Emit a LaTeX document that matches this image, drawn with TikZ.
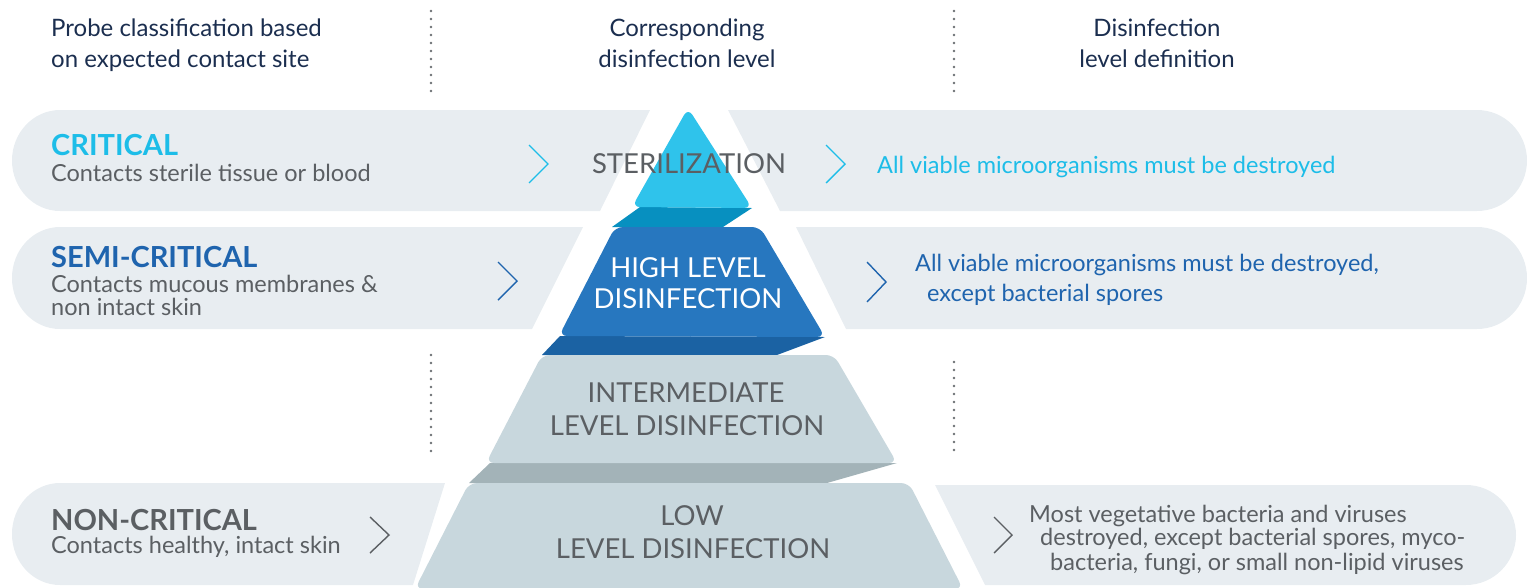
\documentclass[tikz,border=0pt]{standalone}
\usepackage{fontspec}
\setmainfont{Lato}
\definecolor{bandc}{HTML}{E8EDF1}
\definecolor{navyc}{HTML}{1B2E4F}
\definecolor{grayt}{HTML}{5B5F63}
\definecolor{cyant}{HTML}{1DBDE8}
\definecolor{bluet}{HTML}{1F64AE}
\definecolor{dotc}{HTML}{6B6F73}
\definecolor{sterc}{HTML}{2FC3EB}
\definecolor{sterd}{HTML}{0790C0}
\definecolor{highc}{HTML}{2777BF}
\definecolor{highd}{HTML}{1B62A3}
\definecolor{lowc}{HTML}{C8D7DD}
\definecolor{lowd}{HTML}{A3B3B8}
\begin{document}
\begin{tikzpicture}[x=1pt,y=-1pt,
  band/.style={fill=bandc},
  hdr/.style={font=\fontsize{24}{28}\selectfont, text=navyc, inner sep=0pt},
  lvl/.style={font=\fontsize{27.5}{30}\selectfont, text=grayt, inner sep=0pt, anchor=base},
  ttl/.style={font=\fontsize{29}{32}\selectfont\bfseries, inner sep=0pt, anchor=base west},
  sub/.style={font=\fontsize{23.5}{26}\selectfont, text=grayt, inner sep=0pt, anchor=base west},
  defn/.style={font=\fontsize{23.5}{26}\selectfont, inner sep=0pt, anchor=base west},
  chev/.style={line width=1.4pt},
  dots/.style={draw=dotc, line width=2.6pt, line cap=round, dash pattern=on 0pt off 8pt}]
\useasboundingbox (0,0) rectangle (1527,587);
\begin{scope}
\clip (0,0) rectangle (1527,587);

% ---- background bands ----
% critical
\fill[band] (650,110) -- (60,110) .. controls (33.5,110) and (12,132.6) .. (12,160.5)
  .. controls (12,188.4) and (33.5,211) .. (60,211) -- (600,211) -- cycle;
\fill[band] (728,110) -- (1477,110) .. controls (1504.6,110) and (1527,132.6) .. (1527,160.5)
  .. controls (1527,188.4) and (1504.6,211) .. (1477,211) -- (780,211) -- cycle;
% semi-critical
\fill[band] (583,227) -- (60,227) .. controls (33.5,227) and (12,249.6) .. (12,278)
  .. controls (12,306.4) and (33.5,329) .. (60,329) -- (532,329) -- cycle;
\fill[band] (796,227) -- (1477,227) .. controls (1504.6,227) and (1527,249.6) .. (1527,278)
  .. controls (1527,306.4) and (1504.6,329) .. (1477,329) -- (846,329) -- cycle;
% non-critical
\fill[band] (445,483) -- (60,483) .. controls (33.5,483) and (12,505.6) .. (12,534)
  .. controls (12,562.4) and (33.5,585) .. (60,585) -- (413,585) -- cycle;
\fill[band] (935,485) -- (1466,485) .. controls (1493.6,485) and (1516,507.6) .. (1516,535)
  .. controls (1516,562.4) and (1493.6,585) .. (1466,585) -- (985,585) -- cycle;

% ---- pyramid ----
\fill[sterd] (640,207) -- (752,208) -- (723,227) -- (612,227) -- cycle;
\fill[sterc, rounded corners=8pt] (688,108) -- (752,208) -- (632,207) -- cycle;
\fill[highd] (560,336) -- (825,337) -- (777,355) -- (542,355) -- cycle;
\fill[highc, rounded corners=8pt] (615,227) -- (760,227) -- (825,337) -- (559,336) -- cycle;
\fill[lowd] (490,463) -- (897,463) -- (827,483) -- (469,483) -- cycle;
\fill[lowc, rounded corners=8pt] (542,355) -- (834,355) -- (897,463) -- (486,463) -- cycle;
\fill[lowc, rounded corners=8pt] (469,483) -- (909,483) -- (963,589) -- (415,589) -- cycle;
\end{scope}

% ---- column separators ----
\coordinate (s1a) at (431,11);  \coordinate (s1b) at (431,91);
\coordinate (s2a) at (954,11);  \coordinate (s2b) at (954,91);
\coordinate (s3a) at (431,355); \coordinate (s3b) at (431,451);
\coordinate (s4a) at (954,362); \coordinate (s4b) at (954,454);
\draw[dots] (s1a) -- (s1b);
\draw[dots] (s2a) -- (s2b);
\draw[dots] (s3a) -- (s3b);
\draw[dots] (s4a) -- (s4b);

% ---- column headers ----
\node[hdr, anchor=base west] (h1a) at (51,36) {Probe classification based};
\node[hdr, anchor=base west] (h1b) at (51,67) {on expected contact site};
\node[hdr, anchor=base] (h2a) at (687,36) {Corresponding};
\node[hdr, anchor=base] (h2b) at (687,67) {disinfection level};
\node[hdr, anchor=base] (h3a) at (1157,36) {Disinfection};
\node[hdr, anchor=base] (h3b) at (1157,67) {level definition};

% ---- probe classes ----
\node[ttl, text=cyant] (c1) at (51,155) {CRITICAL};
\node[sub] (c1s) at (51,181) {Contacts sterile tissue or blood};
\node[ttl, text=bluet] (c2) at (51,267) {SEMI-CRITICAL};
\node[sub] (c2s) at (51,292) {Contacts mucous membranes \&};
\node[sub] (c2t) at (51,315) {non intact skin};
\node[ttl, text=grayt] (c3) at (51,530) {NON-CRITICAL};
\node[sub] (c3s) at (51,553) {Contacts healthy, intact skin};

% ---- levels ----
\node[lvl] (l1) at (689,173) {STERILIZATION};
\node[lvl, text=white] (l2a) at (688,277) {HIGH LEVEL};
\node[lvl, text=white] (l2b) at (688,308) {DISINFECTION};
\node[lvl] (l3a) at (686,402) {INTERMEDIATE};
\node[lvl] (l3b) at (687,435) {LEVEL DISINFECTION};
\node[lvl] (l4a) at (692,525) {LOW};
\node[lvl] (l4b) at (693,558) {LEVEL DISINFECTION};

% ---- definitions ----
\node[defn, text=cyant] (d1) at (877,173) {All viable microorganisms must be destroyed};
\node[defn, text=bluet] (d2a) at (915,271) {All viable microorganisms must be destroyed,};
\node[defn, text=bluet] (d2b) at (927,301) {except bacterial spores};
\node[defn, text=grayt] (d3a) at (1029,522) {Most vegetative bacteria and viruses};
\node[defn, text=grayt] (d3b) at (1040,545) {destroyed, except bacterial spores, myco-};
\node[defn, text=grayt] (d3c) at (1050,570) {bacteria, fungi, or small non-lipid viruses};

% ---- chevrons ----
\draw[chev, cyant] (529,145) -- (548,164) -- (529,183);
\draw[chev, cyant] (826,145) -- (845,164) -- (826,183);
\draw[chev, bluet] (498,262) -- (517,281) -- (498,300);
\draw[chev, bluet] (867,262) -- (886,282) -- (867,302);
\draw[chev, grayt] (370,517) -- (389,535) -- (370,553);
\draw[chev, grayt] (994,517) -- (1012,535) -- (994,553);
\end{tikzpicture}
\end{document}
